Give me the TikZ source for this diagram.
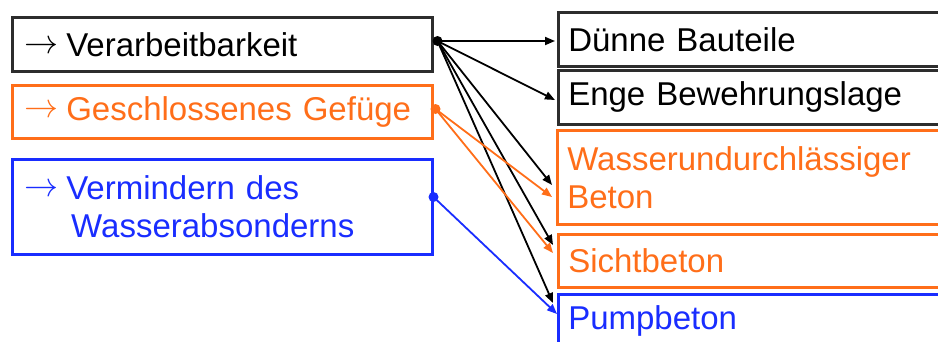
\documentclass[tikz,border=0pt]{standalone}
\usepackage{fontspec}
\setmainfont{Liberation Sans}
\usetikzlibrary{arrows.meta,calc}
\definecolor{myorange}{RGB}{255,110,25}
\definecolor{myblue}{RGB}{25,45,255}
\definecolor{mydark}{RGB}{45,45,45}
\newcommand{\myarr}{\makebox[42pt][l]{\hspace*{0pt}\raisebox{3pt}{\resizebox{34pt}{!}{$\rightarrow$}}}}
\begin{document}
\begin{tikzpicture}[x=1pt,y=-1pt,
  lbox/.style={draw, line width=2.5pt, anchor=north west, minimum width=420pt,
    text width=396pt, inner xsep=12pt, inner ysep=0pt, align=left,
    font=\fontsize{33}{38}\selectfont},
  rbox/.style={draw, line width=2.5pt, anchor=north west, minimum width=420pt,
    text width=400pt, inner xsep=10pt, inner ysep=0pt, align=left,
    font=\fontsize{33}{38}\selectfont},
  conn/.style={line width=1.8pt, -{Triangle[length=10pt,width=8pt]}},
  dot/.style={circle, fill, inner sep=0pt, minimum size=10pt}
]
\useasboundingbox (0,0) rectangle (938,341);
\clip (0,0) rectangle (938,341);
% left boxes
\node[lbox, draw=mydark, text=black, minimum height=54pt] (v) at (11,16) {\myarr Verarbeitbarkeit};
\node[lbox, draw=myorange, text=myorange, minimum height=53pt] (g) at (11,84) {\myarr Geschlossenes Gefüge};
\node[lbox, draw=myblue, text=myblue, minimum height=95pt] (w) at (11,158) {\myarr Vermindern des\\\hspace*{47pt}Wasserabsonderns};
% right boxes
\node[rbox, draw=mydark, text=black, minimum height=54pt] (d) at (557,11) {Dünne Bauteile};
\node[rbox, draw=mydark, text=black, minimum height=54pt] (e) at (557,69) {Enge Bewehrungslage};
\node[rbox, draw=myorange, text=myorange, minimum height=94pt] (u) at (556,129) {Wasserundurchlässiger\\Beton};
\node[rbox, draw=myorange, text=myorange, minimum height=53pt] (s) at (557,233) {Sichtbeton};
\node[rbox, draw=myblue, text=myblue, minimum height=54pt] (p) at (557,293) {Pumpbeton};
% source points
\coordinate (s1) at ($(v.north east)+(4,25)$);
\coordinate (s2) at ($(g.north east)+(2,25)$);
\coordinate (s3) at ($(w.north east)+(0,39)$);
% targets
\coordinate (td) at ($(d.north west)+(-2,30)$);
\coordinate (te) at ($(e.north west)+(-2,31)$);
\coordinate (tu1) at ($(u.north west)+(-4,56)$);
\coordinate (tu2) at ($(u.north west)+(-4,68)$);
\coordinate (ts1) at ($(s.north west)+(-4,12)$);
\coordinate (ts2) at ($(s.north west)+(-4,20)$);
\coordinate (tp1) at ($(p.north west)+(-4,10)$);
\coordinate (tp2) at ($(p.north west)+(0,21)$);
% connectors
\draw[conn, black] (s1) -- (td);
\draw[conn, black] (s1) -- (te);
\draw[conn, black] (s1) -- (tu1);
\draw[conn, black] (s1) -- (ts1);
\draw[conn, black] (s1) -- (tp1);
\draw[conn, myorange] (s2) -- (tu2);
\draw[conn, myorange] (s2) -- (ts2);
\draw[conn, myblue] (s3) -- (tp2);
\node[dot, black] (d1) at (s1) {};
\node[dot, myorange] (d2) at (s2) {};
\node[dot, myblue] (d3) at (s3) {};
\end{tikzpicture}
\end{document}
